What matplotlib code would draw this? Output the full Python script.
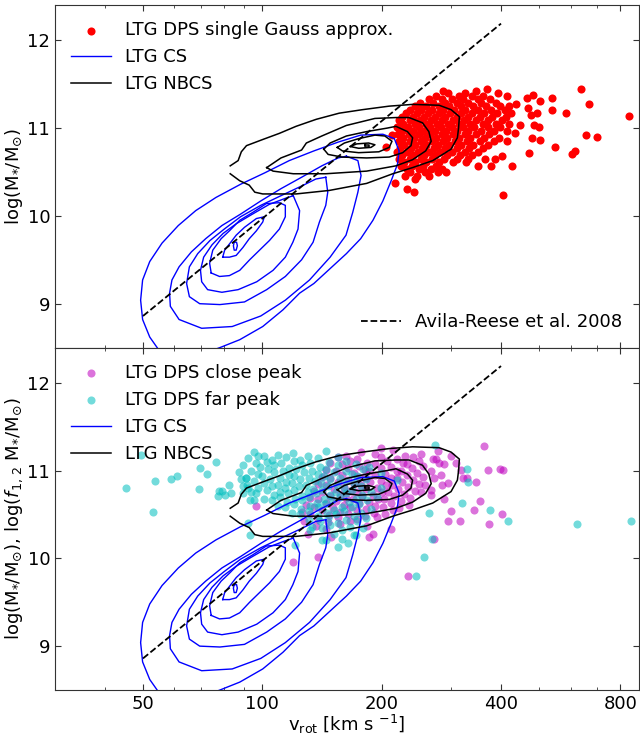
import numpy as np
import matplotlib
matplotlib.use("Agg")
import matplotlib.pyplot as plt
from matplotlib.lines import Line2D
from matplotlib.ticker import FixedLocator, LogLocator, NullFormatter, MultipleLocator

# x ticks (km/s)
vrot_ticks = [50, 100, 200, 400, 800]

# Avila-Reese et al. 2008 relation (end points)
avila_vrot = [50, 400]
avila_logm = [8.86, 12.19]

# LTG CS density contours, (log vrot, log M*), outermost first
cs_1 = [(1.744, 8.44), (1.716, 8.62), (1.698, 8.82), (1.693, 9.04), (1.698, 9.27), (1.716, 9.48),
        (1.747, 9.69), (1.788, 9.89), (1.832, 10.06), (1.883, 10.21), (1.945, 10.36), (2.006, 10.49),
        (2.068, 10.63), (2.130, 10.74), (2.191, 10.84), (2.248, 10.92), (2.304, 10.93), (2.333, 10.88),
        (2.345, 10.74), (2.341, 10.59), (2.325, 10.40), (2.304, 10.17), (2.279, 9.95), (2.248, 9.74),
        (2.212, 9.57), (2.171, 9.40), (2.130, 9.23), (2.094, 9.12), (2.052, 8.93), (2.001, 8.74),
        (1.943, 8.59), (1.893, 8.50), (1.857, 8.44)]
cs_2 = [(2.212, 10.68), (2.241, 10.63), (2.249, 10.46), (2.241, 10.27), (2.228, 10.04), (2.211, 9.78),
        (2.171, 9.53), (2.119, 9.27), (2.058, 9.04), (1.996, 8.86), (1.924, 8.74), (1.847, 8.72),
        (1.790, 8.82), (1.768, 8.97), (1.766, 9.12), (1.772, 9.27), (1.790, 9.42), (1.821, 9.59),
        (1.857, 9.74), (1.898, 9.89), (1.945, 10.02), (1.996, 10.17), (2.047, 10.31), (2.099, 10.44),
        (2.150, 10.57), (2.191, 10.66)]
cs_3 = [(2.160, 10.44), (2.165, 10.27), (2.160, 10.12), (2.144, 9.93), (2.128, 9.70), (2.099, 9.50),
        (2.058, 9.31), (2.011, 9.16), (1.955, 9.02), (1.893, 8.99), (1.842, 9.00), (1.816, 9.08),
        (1.809, 9.23), (1.816, 9.42), (1.837, 9.57), (1.868, 9.72), (1.904, 9.85), (1.945, 9.99),
        (1.996, 10.12), (2.047, 10.23), (2.099, 10.34), (2.135, 10.42)]
cs_4 = [(2.078, 10.23), (2.094, 10.06), (2.090, 9.85), (2.077, 9.70), (2.058, 9.53), (2.027, 9.38),
        (1.986, 9.25), (1.939, 9.16), (1.898, 9.13), (1.862, 9.16), (1.847, 9.25), (1.844, 9.38),
        (1.852, 9.53), (1.873, 9.67), (1.901, 9.80), (1.934, 9.91), (1.975, 10.02), (2.017, 10.13),
        (2.058, 10.20)]
cs_5 = [(1.871, 9.35), (1.867, 9.46), (1.875, 9.61), (1.896, 9.74), (1.917, 9.83), (1.943, 9.95),
        (1.976, 10.04), (2.010, 10.14), (2.043, 10.15), (2.058, 10.12), (2.058, 9.99), (2.043, 9.85),
        (2.018, 9.72), (1.993, 9.61), (1.968, 9.50), (1.943, 9.38), (1.917, 9.32), (1.892, 9.31)]
cs_6 = [(1.900, 9.53), (1.905, 9.61), (1.917, 9.68), (1.934, 9.78), (1.955, 9.87), (1.985, 9.97),
        (2.005, 9.99), (2.001, 9.93), (1.985, 9.83), (1.967, 9.74), (1.951, 9.64), (1.934, 9.55),
        (1.917, 9.53)]
cs_7 = [(1.929, 9.70), (1.935, 9.70), (1.937, 9.66), (1.934, 9.61), (1.929, 9.61), (1.927, 9.66)]

# LTG NBCS density contours
nbcs_1 = [(1.919, 10.57), (1.939, 10.63), (1.947, 10.73), (1.960, 10.80), (2.001, 10.87), (2.043, 10.94),
          (2.085, 11.02), (2.136, 11.10), (2.194, 11.17), (2.253, 11.21), (2.320, 11.25), (2.379, 11.27),
          (2.446, 11.26), (2.476, 11.21), (2.497, 11.13), (2.495, 11.00), (2.492, 10.89), (2.476, 10.76),
          (2.430, 10.63), (2.379, 10.55), (2.329, 10.48), (2.263, 10.37), (2.169, 10.29), (2.085, 10.25),
          (2.001, 10.25), (1.981, 10.27), (1.967, 10.35), (1.943, 10.40), (1.919, 10.48)]
nbcs_2 = [(2.011, 10.55), (2.047, 10.66), (2.099, 10.75), (2.111, 10.83), (2.150, 10.91), (2.212, 11.03),
          (2.284, 11.11), (2.337, 11.12), (2.370, 11.12), (2.404, 11.06), (2.420, 10.96), (2.426, 10.85),
          (2.412, 10.74), (2.379, 10.64), (2.337, 10.57), (2.263, 10.51), (2.160, 10.48), (2.078, 10.48),
          (2.027, 10.51)]
nbcs_3 = [(2.155, 10.76), (2.171, 10.83), (2.212, 10.91), (2.263, 10.96), (2.315, 11.00), (2.337, 11.02),
          (2.366, 10.96), (2.379, 10.89), (2.375, 10.80), (2.354, 10.72), (2.320, 10.67), (2.263, 10.66),
          (2.201, 10.67), (2.166, 10.70)]
nbcs_4 = [(2.189, 10.78), (2.207, 10.83), (2.243, 10.88), (2.284, 10.92), (2.309, 10.91), (2.327, 10.85),
          (2.320, 10.78), (2.294, 10.73), (2.243, 10.72), (2.202, 10.74)]
nbcs_5 = [(2.222, 10.79), (2.238, 10.82), (2.268, 10.83), (2.284, 10.81), (2.274, 10.78), (2.243, 10.77)]
nbcs_6 = [(2.258, 10.81), (2.268, 10.81), (2.268, 10.79), (2.258, 10.79)]

# LTG DPS single Gauss approximation, (log vrot, log M*)
red_pts = [
    (2.567, 11.44), (2.538, 11.42), (2.455, 11.42), (2.468, 11.40), (2.510, 11.40), (2.595, 11.40),
    (2.437, 11.37), (2.496, 11.37), (2.528, 11.37), (2.556, 11.37), (2.618, 11.37),
    (2.420, 11.33), (2.452, 11.33), (2.478, 11.33), (2.505, 11.33), (2.543, 11.33), (2.575, 11.33),
    (2.398, 11.29), (2.430, 11.29), (2.462, 11.29), (2.490, 11.29), (2.520, 11.29), (2.552, 11.29), (2.590, 11.29),
    (2.385, 11.25), (2.412, 11.25), (2.445, 11.25), (2.472, 11.25), (2.500, 11.25), (2.532, 11.25), (2.565, 11.25),
    (2.600, 11.25),
    (2.372, 11.21), (2.400, 11.21), (2.428, 11.21), (2.456, 11.21), (2.484, 11.21), (2.512, 11.21), (2.545, 11.21),
    (2.578, 11.21), (2.612, 11.21),
    (2.362, 11.17), (2.390, 11.17), (2.418, 11.17), (2.446, 11.17), (2.474, 11.17), (2.502, 11.17), (2.530, 11.17),
    (2.560, 11.17), (2.592, 11.17), (2.628, 11.17),
    (2.352, 11.13), (2.380, 11.13), (2.408, 11.13), (2.436, 11.13), (2.462, 11.13), (2.490, 11.13), (2.518, 11.13),
    (2.548, 11.13), (2.580, 11.13), (2.615, 11.13),
    (2.345, 11.09), (2.372, 11.09), (2.398, 11.09), (2.425, 11.09), (2.452, 11.09), (2.480, 11.09), (2.508, 11.09),
    (2.538, 11.09), (2.570, 11.09), (2.605, 11.09),
    (2.356, 11.05), (2.385, 11.05), (2.412, 11.05), (2.440, 11.05), (2.468, 11.05), (2.496, 11.05), (2.525, 11.05),
    (2.556, 11.05), (2.590, 11.05), (2.622, 11.05),
    (2.340, 11.01), (2.368, 11.01), (2.395, 11.01), (2.422, 11.01), (2.450, 11.01), (2.478, 11.01), (2.506, 11.01),
    (2.535, 11.01), (2.568, 11.01), (2.600, 11.01),
    (2.352, 10.97), (2.380, 10.97), (2.408, 10.97), (2.436, 10.97), (2.464, 10.97), (2.492, 10.97), (2.520, 10.97),
    (2.552, 10.97), (2.585, 10.97), (2.618, 10.97),
    (2.343, 10.93), (2.370, 10.93), (2.396, 10.93), (2.424, 10.93), (2.452, 10.93), (2.480, 10.93), (2.510, 10.93),
    (2.540, 10.93), (2.572, 10.93),
    (2.355, 10.89), (2.383, 10.89), (2.410, 10.89), (2.438, 10.89), (2.466, 10.89), (2.495, 10.89), (2.525, 10.89),
    (2.560, 10.89), (2.598, 10.89),
    (2.345, 10.85), (2.372, 10.85), (2.400, 10.85), (2.428, 10.85), (2.456, 10.85), (2.485, 10.85), (2.515, 10.85),
    (2.548, 10.85), (2.585, 10.85),
    (2.358, 10.81), (2.386, 10.81), (2.414, 10.81), (2.442, 10.81), (2.470, 10.81), (2.500, 10.81), (2.532, 10.81),
    (2.570, 10.81),
    (2.348, 10.77), (2.375, 10.77), (2.403, 10.77), (2.432, 10.77), (2.460, 10.77), (2.490, 10.77), (2.522, 10.77),
    (2.556, 10.77),
    (2.340, 10.73), (2.365, 10.73), (2.392, 10.73), (2.420, 10.73), (2.448, 10.73), (2.478, 10.73), (2.510, 10.73),
    (2.545, 10.73),
    (2.352, 10.69), (2.380, 10.69), (2.408, 10.69), (2.436, 10.69), (2.466, 10.69), (2.498, 10.69), (2.530, 10.69),
    (2.345, 10.65), (2.372, 10.65), (2.400, 10.65), (2.428, 10.65), (2.458, 10.65), (2.490, 10.65), (2.520, 10.65),
    (2.562, 10.65), (2.588, 10.65),
    (2.358, 10.61), (2.386, 10.61), (2.414, 10.61), (2.445, 10.61), (2.480, 10.61), (2.513, 10.61),
    (2.350, 10.57), (2.378, 10.57), (2.406, 10.57), (2.438, 10.57), (2.545, 10.57), (2.578, 10.57),
    (2.365, 10.53), (2.395, 10.53), (2.425, 10.53), (2.454, 10.53),
    (2.372, 10.50), (2.410, 10.50), (2.442, 10.50), (2.463, 10.50),
    (2.360, 10.46), (2.390, 10.46), (2.421, 10.46),
    (2.335, 10.38), (2.366, 10.31), (2.383, 10.27), (2.385, 10.42), (2.313, 10.79), (2.328, 10.92),
    (2.804, 11.45), (2.824, 11.27), (2.924, 11.14), (2.731, 11.34), (2.682, 11.38), (2.668, 11.34),
    (2.700, 11.31), (2.640, 11.28), (2.622, 11.25), (2.670, 11.23), (2.693, 11.17), (2.678, 11.15),
    (2.731, 11.21), (2.767, 11.17), (2.816, 10.92), (2.844, 10.90), (2.737, 10.79), (2.788, 10.74),
    (2.781, 10.70), (2.630, 10.57), (2.607, 10.24), (2.673, 10.72), (2.618, 10.85), (2.681, 10.89),
    (2.700, 10.86), (2.685, 11.04), (2.698, 11.01), (2.651, 11.04), (2.637, 10.94), (2.604, 10.68),
]

# LTG DPS close peak
close_pts = [
    (2.300, 11.26), (2.250, 11.21), (2.330, 11.23),
    (2.210, 11.17), (2.285, 11.19), (2.360, 11.17), (2.400, 11.19),
    (2.190, 11.15), (2.240, 11.13), (2.300, 11.15), (2.340, 11.13), (2.380, 11.15),
    (2.170, 11.09), (2.220, 11.11), (2.265, 11.09), (2.315, 11.11), (2.355, 11.08), (2.395, 11.11), (2.445, 11.09),
    (2.200, 11.07), (2.245, 11.05), (2.285, 11.07), (2.325, 11.04), (2.365, 11.07), (2.405, 11.05), (2.458, 11.07),
    (2.160, 11.01), (2.215, 11.03), (2.260, 11.01), (2.300, 11.03), (2.340, 11.00), (2.378, 11.03),
    (2.185, 10.99), (2.230, 10.97), (2.270, 10.99), (2.310, 10.96), (2.350, 10.99), (2.390, 10.97),
    (2.150, 10.93), (2.200, 10.95), (2.245, 10.93), (2.285, 10.95), (2.325, 10.92), (2.365, 10.95), (2.405, 10.93),
    (2.450, 10.95),
    (2.170, 10.91), (2.215, 10.89), (2.260, 10.91), (2.300, 10.88), (2.340, 10.91), (2.380, 10.89),
    (2.140, 10.85), (2.190, 10.87), (2.232, 10.85), (2.272, 10.87), (2.312, 10.84), (2.352, 10.87), (2.395, 10.85),
    (2.160, 10.83), (2.205, 10.81), (2.248, 10.83), (2.288, 10.80), (2.328, 10.83), (2.368, 10.81), (2.410, 10.83),
    (2.130, 10.77), (2.180, 10.79), (2.222, 10.77), (2.262, 10.79), (2.302, 10.76), (2.342, 10.79), (2.385, 10.77),
    (2.150, 10.75), (2.195, 10.73), (2.238, 10.75), (2.278, 10.72), (2.318, 10.75), (2.358, 10.73), (2.400, 10.75),
    (2.120, 10.69), (2.170, 10.71), (2.212, 10.69), (2.252, 10.71), (2.292, 10.68), (2.332, 10.71), (2.372, 10.69),
    (2.140, 10.67), (2.185, 10.65), (2.228, 10.67), (2.268, 10.64), (2.308, 10.67), (2.350, 10.65),
    (2.110, 10.61), (2.160, 10.63), (2.205, 10.61), (2.245, 10.63), (2.285, 10.60), (2.325, 10.63), (2.370, 10.61),
    (2.130, 10.59), (2.178, 10.57), (2.222, 10.59), (2.262, 10.56), (2.305, 10.59), (2.345, 10.57),
    (2.100, 10.53), (2.150, 10.55), (2.195, 10.53), (2.240, 10.55), (2.282, 10.52), (2.330, 10.55),
    (2.120, 10.51), (2.168, 10.49), (2.215, 10.51), (2.260, 10.48), (2.310, 10.51),
    (2.140, 10.45), (2.190, 10.47), (2.240, 10.45), (2.290, 10.47),
    (2.105, 10.43), (2.165, 10.41), (2.220, 10.43),
    (2.135, 10.37), (2.195, 10.39), (2.265, 10.37),
    (2.160, 10.33), (2.325, 10.33), (2.115, 10.28), (2.278, 10.28), (2.173, 10.24), (2.270, 10.24),
    (2.559, 11.28), (2.442, 11.22), (2.431, 11.13), (2.437, 11.13), (2.475, 11.16), (2.488, 11.08),
    (2.502, 11.01), (2.570, 11.01), (2.599, 11.02), (2.607, 11.01), (2.425, 11.00), (2.433, 10.91),
    (2.505, 10.91), (2.515, 10.92), (2.540, 10.87), (2.454, 10.83), (2.468, 10.86), (2.425, 10.78),
    (2.425, 10.72), (2.458, 10.67), (2.549, 10.65), (2.475, 10.54), (2.534, 10.55), (2.604, 10.51),
    (2.468, 10.43), (2.499, 10.43), (2.572, 10.39), (2.433, 10.22), (2.368, 9.80), (2.140, 10.02),
    (2.078, 9.96), (1.984, 10.60),
]

# LTG DPS far peak
far_pts = [
    (1.980, 11.21), (2.077, 11.20), (2.161, 11.22),
    (2.003, 11.16), (2.040, 11.18), (2.115, 11.17), (2.190, 11.15),
    (1.965, 11.14), (2.025, 11.12), (2.060, 11.15), (2.095, 11.12), (2.140, 11.14), (2.210, 11.11),
    (1.984, 11.08), (2.012, 11.10), (2.048, 11.08), (2.080, 11.11), (2.120, 11.08), (2.168, 11.10), (2.235, 11.07),
    (1.950, 11.06), (1.995, 11.04), (2.030, 11.06), (2.066, 11.03), (2.100, 11.06), (2.145, 11.04), (2.192, 11.06),
    (2.270, 11.04),
    (1.972, 11.00), (2.015, 11.02), (2.052, 10.99), (2.085, 11.02), (2.125, 11.00), (2.160, 11.02), (2.210, 10.99),
    (2.255, 11.02),
    (1.940, 10.98), (1.988, 10.96), (2.030, 10.98), (2.068, 10.95), (2.105, 10.98), (2.140, 10.96), (2.180, 10.98),
    (2.225, 10.96), (2.300, 10.97),
    (1.958, 10.92), (2.000, 10.94), (2.045, 10.92), (2.080, 10.94), (2.118, 10.91), (2.155, 10.94), (2.195, 10.92),
    (2.240, 10.94),
    (1.945, 10.90), (1.978, 10.88), (2.020, 10.90), (2.060, 10.87), (2.095, 10.90), (2.132, 10.88), (2.170, 10.90),
    (2.210, 10.88), (2.262, 10.90), (2.340, 10.89),
    (1.962, 10.84), (2.005, 10.86), (2.040, 10.84), (2.075, 10.86), (2.110, 10.83), (2.148, 10.86), (2.188, 10.84),
    (2.230, 10.86),
    (1.950, 10.82), (1.990, 10.80), (2.025, 10.82), (2.058, 10.80), (2.092, 10.82), (2.128, 10.79), (2.165, 10.82),
    (2.205, 10.80), (2.250, 10.82), (2.300, 10.80),
    (1.972, 10.76), (2.012, 10.78), (2.045, 10.76), (2.080, 10.78), (2.115, 10.75), (2.150, 10.78), (2.185, 10.76),
    (2.225, 10.78), (2.275, 10.76),
    (1.985, 10.74), (2.030, 10.72), (2.065, 10.74), (2.100, 10.71), (2.135, 10.74), (2.170, 10.72), (2.210, 10.74),
    (2.252, 10.72),
    (2.005, 10.68), (2.045, 10.70), (2.082, 10.68), (2.118, 10.70), (2.155, 10.67), (2.195, 10.70), (2.235, 10.68),
    (2.290, 10.70),
    (2.025, 10.66), (2.062, 10.64), (2.100, 10.66), (2.138, 10.63), (2.175, 10.66), (2.218, 10.64), (2.265, 10.66),
    (2.040, 10.60), (2.080, 10.62), (2.120, 10.60), (2.158, 10.62), (2.200, 10.59), (2.245, 10.62),
    (2.058, 10.58), (2.098, 10.56), (2.140, 10.58), (2.180, 10.55), (2.225, 10.58), (2.275, 10.56),
    (2.075, 10.52), (2.118, 10.54), (2.162, 10.52), (2.205, 10.54), (2.250, 10.52),
    (2.095, 10.50), (2.140, 10.48), (2.185, 10.50), (2.230, 10.48),
    (2.118, 10.44), (2.165, 10.46), (2.210, 10.44), (2.262, 10.46),
    (2.145, 10.42), (2.190, 10.40), (2.240, 10.42),
    (2.125, 10.36), (2.170, 10.38), (2.220, 10.36),
    (2.150, 10.34), (2.200, 10.32), (2.255, 10.34),
    (2.180, 10.28), (2.236, 10.27), (2.200, 10.22), (2.150, 10.21),
    (1.655, 10.80), (1.695, 11.18), (1.728, 10.88), (1.723, 10.53), (1.769, 10.90), (1.785, 10.94),
    (1.843, 11.03), (1.861, 10.96), (1.884, 11.10), (1.840, 10.79), (1.890, 10.77), (1.899, 10.77),
    (1.888, 10.71), (1.905, 10.72), (1.915, 10.83), (1.922, 10.74), (1.959, 10.92), (1.951, 10.74),
    (1.963, 10.80), (1.989, 11.17), (1.968, 10.66), (1.980, 10.66), (1.963, 10.40), (1.969, 10.26),
    (2.517, 11.02), (2.520, 10.87), (2.504, 10.63), (2.573, 10.55), (2.619, 10.43), (2.794, 10.39),
    (2.929, 10.43), (2.429, 10.22), (2.421, 10.52), (2.436, 11.29), (2.407, 10.01), (2.388, 9.80),
    (2.119, 10.32), (2.083, 10.15), (2.160, 10.21), (2.191, 10.13), (2.217, 10.17), (2.230, 10.26),
]

cs_lines = [cs_1, cs_2, cs_3, cs_4, cs_5, cs_6, cs_7]
nbcs_lines = [nbcs_1, nbcs_2, nbcs_3, nbcs_4, nbcs_5, nbcs_6]


def lin(pts):
    a = np.array(pts)
    return 10 ** a[:, 0], a[:, 1]


def draw_contours(ax):
    # the outermost level of each set is open (cut at the grid edge)
    for i, c in enumerate(cs_lines):
        pts = c if i == 0 else c + c[:1]
        x, y = lin(pts)
        ax.plot(x, y, color='b', lw=1.0, zorder=2)
    for i, c in enumerate(nbcs_lines):
        pts = c if i == 0 else c + c[:1]
        x, y = lin(pts)
        ax.plot(x, y, color='k', lw=1.1, zorder=2)
    ax.plot(avila_vrot, avila_logm, 'k--', lw=1.3, zorder=3)


def style(ax):
    ax.set_xscale('log')
    ax.set_xlim(30, 890)
    ax.set_ylim(8.5, 12.4)
    ax.xaxis.set_major_locator(FixedLocator(vrot_ticks))
    ax.set_xticklabels([str(t) for t in vrot_ticks])
    ax.xaxis.set_minor_locator(LogLocator(base=10, subs=np.arange(2, 10)))
    ax.xaxis.set_minor_formatter(NullFormatter())
    ax.yaxis.set_major_locator(MultipleLocator(1))
    ax.tick_params(which='both', direction='in', top=True, right=True, labelsize=13, color='0.2')
    ax.tick_params(which='major', length=4)
    ax.tick_params(which='minor', length=2)
    for s in ax.spines.values():
        s.set_color('0.2')


fig = plt.figure(figsize=(6.4, 7.38), dpi=100)
ax1 = fig.add_axes([0.086, 0.529, 0.912, 0.464])
ax2 = fig.add_axes([0.086, 0.065, 0.912, 0.464], sharex=ax1)

cs_handle = Line2D([], [], color='b', lw=1.0, label='LTG CS')
nbcs_handle = Line2D([], [], color='k', lw=1.1, label='LTG NBCS')

# top panel
rx, ry = lin(red_pts)
red = ax1.scatter(rx, ry, s=34, color='r', linewidths=0, zorder=1, label='LTG DPS single Gauss approx.')
draw_contours(ax1)
style(ax1)
ax1.tick_params(labelbottom=False)
ax1.set_ylabel(r'log(M$_{*}$/M$_{\odot}$)', fontsize=13, labelpad=2)
leg = ax1.legend(handles=[red, cs_handle, nbcs_handle], loc='upper left', frameon=False,
                 fontsize=13, scatterpoints=1, handlelength=2.2)
ax1.add_artist(leg)
avila_handle = Line2D([], [], color='k', ls='--', lw=1.3, label='Avila-Reese et al. 2008')
ax1.legend(handles=[avila_handle], loc='lower right', frameon=False, fontsize=13, handlelength=2.2)

# bottom panel
cx, cy = lin(close_pts)
fx, fy = lin(far_pts)
close = ax2.scatter(cx, cy, s=34, color='m', alpha=0.55, linewidths=0, zorder=1, label='LTG DPS close peak')
far = ax2.scatter(fx, fy, s=34, color='c', alpha=0.55, linewidths=0, zorder=1, label='LTG DPS far peak')
draw_contours(ax2)
style(ax2)
ax2.set_ylabel(r'log(M$_{*}$/M$_{\odot}$), log($f_{1,\,2}$ M$_{*}$/M$_{\odot}$)', fontsize=13, labelpad=2)
ax2.set_xlabel(r'v$_{\rm rot}$ [km s $^{-1}$]', fontsize=13, labelpad=0)
ax2.legend(handles=[close, far, cs_handle, nbcs_handle], loc='upper left', frameon=False,
           fontsize=13, scatterpoints=1, handlelength=2.2)

fig.savefig('out.png', dpi=100)
